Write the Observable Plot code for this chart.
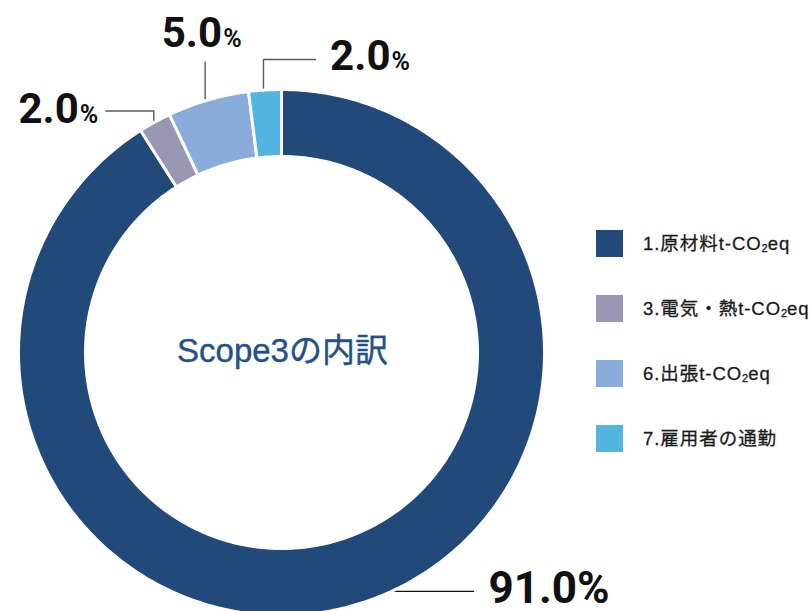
<!DOCTYPE html>
<html>
<head>
<meta charset="utf-8">
<script src="https://cdn.jsdelivr.net/npm/d3@7"></script>
<script src="https://cdn.jsdelivr.net/npm/@observablehq/plot@0.6"></script>
<style>
  body { margin: 0; background: #fff; }
  #wrap { position: relative; width: 811px; height: 611px; overflow: hidden; }
  #legend { position: absolute; left: 596px; top: 230px; font-family: "Liberation Sans", "Noto Sans CJK JP", sans-serif; font-weight: 400; color: #1a1a1a; }
  .lrow { position: absolute; left: 0; height: 27px; white-space: nowrap; }
  .lsw { position: absolute; left: 0; top: 0; width: 27px; height: 27px; }
  .ltx { position: absolute; left: 47px; top: 0; line-height: 27px; font-size: 18.5px; letter-spacing: 0.95px; -webkit-text-stroke: 0.3px #1a1a1a; }
  .ltx sub { font-size: 11px; vertical-align: -2px; line-height: 0; letter-spacing: 0; }
</style>
</head>
<body>
<div id="wrap"></div>
<script>
// ---- data ----
const categories = ["1.原材料t-CO2eq", "3.電気・熱t-CO2eq", "6.出張t-CO2eq", "7.雇用者の通勤"];
const shares = [91.0, 2.0, 5.0, 2.0];
const percentLabels = ["91.0", "2.0", "5.0", "2.0"];
const colors = ["#21497a", "#9897b4", "#89acdb", "#51b5e0"];
const centerTitle = "Scope3の内訳";

// ---- layout (pixels) ----
const W = 811, H = 611;
const cx = 281, cy = 352, R = 263;       // outer radius in px -> 1 data unit
const innerRatio = 196 / 263;
const u = (px) => px / R;                // px offset -> data units

// per-label placement: fraction along the slice for the anchor point,
// text offset from anchor (px), leader polyline offsets (px)
const labelLayout = [
  { at: 0.474, text: [97, 12], leader: [[-8, 0], [82, 0]] },
  { at: 0.5, text: [-76, 1], leader: [[-1, 1], [-1, -11], [-49, -11]] },
  { at: 0.5, text: [14, -53], leader: [[-3, 1], [-3, -38]] },
  { at: 0.5, text: [125.5, -20.5], leader: [[-1.5, 0.5], [-1.5, -30.5], [50.5, -30.5]] }
];

// ---- geometry derived from the data ----
const total = d3.sum(shares);
const cum = d3.cumsum(shares);
const slices = shares.map((s, i) => ({
  cat: categories[i],
  a0: ((cum[i] - s) / total) * 2 * Math.PI,
  a1: (cum[i] / total) * 2 * Math.PI
}));
const pt = (r, a) => [r * Math.sin(a), r * Math.cos(a)];

const ring = [];
slices.forEach((s, i) => {
  const n = Math.max(6, Math.ceil((s.a1 - s.a0) * 60));
  for (let k = 0; k <= n; k++) {
    const [x, y] = pt(1, s.a0 + (s.a1 - s.a0) * k / n);
    ring.push({ slice: i, cat: s.cat, x, y });
  }
  for (let k = n; k >= 0; k--) {
    const [x, y] = pt(innerRatio, s.a0 + (s.a1 - s.a0) * k / n);
    ring.push({ slice: i, cat: s.cat, x, y });
  }
});

const anchors = slices.map((s, i) => pt(1, s.a0 + (s.a1 - s.a0) * labelLayout[i].at));
const labels = slices.map((s, i) => ({
  slice: i,
  num: percentLabels[i],
  x: anchors[i][0] + u(labelLayout[i].text[0]),
  y: anchors[i][1] - u(labelLayout[i].text[1])
}));
const leaders = [];
slices.forEach((s, i) => {
  labelLayout[i].leader.forEach(([dx, dy]) => {
    leaders.push({ slice: i, x: anchors[i][0] + u(dx), y: anchors[i][1] - u(dy) });
  });
});

const numFont = "Roboto, 'DejaVu Sans Condensed', sans-serif";

const chart = Plot.plot({
  width: W,
  height: H,
  margin: 0,
  style: { background: "transparent", overflow: "hidden" },
  x: { type: "linear", domain: [-1, 1], range: [cx - R, cx + R], axis: null },
  y: { type: "linear", domain: [-1, 1], range: [cy + R, cy - R], axis: null },
  color: { domain: categories, range: colors },
  marks: [
    Plot.line(leaders.filter(d => d.slice > 0), { x: "x", y: "y", z: "slice", stroke: "#5a5a5a", strokeWidth: 1.4 }),
    Plot.line(leaders.filter(d => d.slice === 0), { x: "x", y: "y", z: "slice", stroke: "#111", strokeWidth: 1.4 }),
    Plot.line(ring, { x: "x", y: "y", z: "slice", fill: "cat", stroke: "white", strokeWidth: 3, curve: "linear-closed" }),
    Plot.text([{ x: 0, y: 0, t: centerTitle }], {
      x: "x", y: "y", text: "t", fill: "#24508a", fontSize: 33, fontWeight: 400,
      fontFamily: "'Liberation Sans', 'Noto Sans CJK JP', sans-serif", lineAnchor: "middle",
      letterSpacing: "1.8px", dx: 1, dy: -1, stroke: "#24508a", strokeWidth: 0.4
    }),
    // big label (full-size %)
    Plot.text(labels.filter(d => d.slice === 0), {
      x: "x", y: "y", text: d => d.num + "%", textAnchor: "start", lineAnchor: "bottom",
      fontSize: 44, fontWeight: 700, fontFamily: numFont, fill: "#111", letterSpacing: "-0.9px"
    }),
    // small labels: number + small %
    Plot.text(labels.filter(d => d.slice > 0), {
      x: "x", y: "y", text: "num", textAnchor: "end", lineAnchor: "bottom",
      fontSize: 42, fontWeight: 700, fontFamily: numFont, fill: "#111", letterSpacing: "-1.2px"
    }),
    Plot.text(labels.filter(d => d.slice > 0), {
      x: "x", y: "y", text: () => "%", textAnchor: "start", lineAnchor: "bottom", dx: 1,
      fontSize: 25, fontWeight: 700, fontFamily: numFont, fill: "#111"
    })
  ]
});

const wrap = document.getElementById("wrap");
wrap.appendChild(chart);

// legend built from the same categories and the plot's color scale
const colorScale = chart.scale("color");
const legend = d3.select(wrap).append("div").attr("id", "legend");
categories.forEach((c, i) => {
  const row = legend.append("div").attr("class", "lrow").style("top", (i * 65) + "px");
  row.append("div").attr("class", "lsw").style("background", colorScale.apply(c));
  row.append("div").attr("class", "ltx").html(c.replace("CO2", "CO<sub>2</sub>"));
});
</script>
</body>
</html>
